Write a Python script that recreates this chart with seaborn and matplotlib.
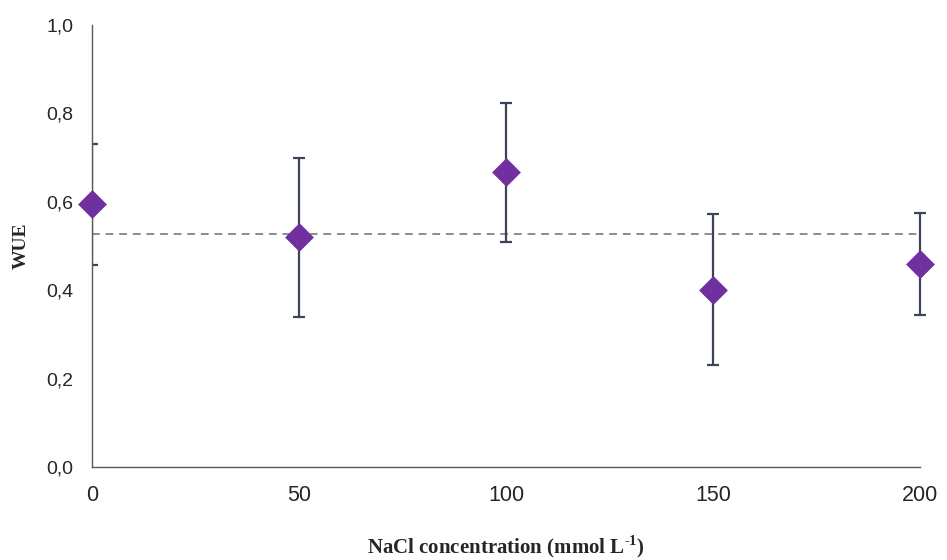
import numpy as np
import pandas as pd
import seaborn as sns
import matplotlib.pyplot as plt

nacl = [0, 50, 100, 150, 200]
wue = [0.594, 0.520, 0.667, 0.401, 0.459]
wue_err = [0.137, 0.180, 0.157, 0.171, 0.115]
wue_mean = 0.528

df = pd.DataFrame({'NaCl': nacl, 'WUE': wue, 'err': wue_err})

sns.set_style('white')
plt.rcParams['font.family'] = ['Liberation Sans', 'DejaVu Sans']
plt.rcParams['mathtext.fontset'] = 'custom'
plt.rcParams['mathtext.rm'] = 'Liberation Serif:bold'
plt.rcParams['mathtext.bf'] = 'Liberation Serif:bold'

fig = plt.figure(figsize=(9.47, 5.6), dpi=100)
ax = fig.add_axes([92 / 947, 1 - 467 / 560, 828 / 947, 442 / 560])

# mean line
ax.axhline(wue_mean, color='#8c8c8c', linestyle=(0, (4, 3)), linewidth=1.4, zorder=1)

# first bar sits on the y axis and gets clipped, the others do not
eb_style = dict(fmt='none', ecolor='#3b4557', elinewidth=1.6, capsize=4.5, capthick=1.6, zorder=2)
ax.errorbar(df['NaCl'][:1], df['WUE'][:1], yerr=df['err'][:1], **eb_style)
ax.errorbar(df['NaCl'][1:], df['WUE'][1:], yerr=df['err'][1:], clip_on=False, **eb_style)
sns.scatterplot(data=df, x='NaCl', y='WUE', marker='D', s=200, color='#7030a0',
                edgecolor='#7030a0', linewidth=0.5, zorder=3, ax=ax, clip_on=False)

ax.set_xlim(0, 200)
ax.set_ylim(0, 1.0)
ax.set_xticks(nacl)
ax.set_yticks(np.arange(0, 1.01, 0.2))
ax.set_yticklabels([f'{v:.1f}'.replace('.', ',') for v in np.arange(0, 1.01, 0.2)])
ax.tick_params(axis='x', labelsize=15.5, pad=13, length=0)
ax.tick_params(axis='y', labelsize=14, pad=13.5, length=0)

for s in ['top', 'right']:
    ax.spines[s].set_visible(False)
for s in ['left', 'bottom']:
    ax.spines[s].set_color('#595959')
    ax.spines[s].set_linewidth(1.0)

ax.set_xlabel(r'NaCl concentration (mmol L$^{\text{-1}}$)', fontsize=15,
              fontweight='bold', family='Liberation Serif', labelpad=20)
ax.set_ylabel('WUE', fontsize=14, fontweight='bold', family='Liberation Serif', labelpad=12)

fig.savefig('out.png', dpi=100)
